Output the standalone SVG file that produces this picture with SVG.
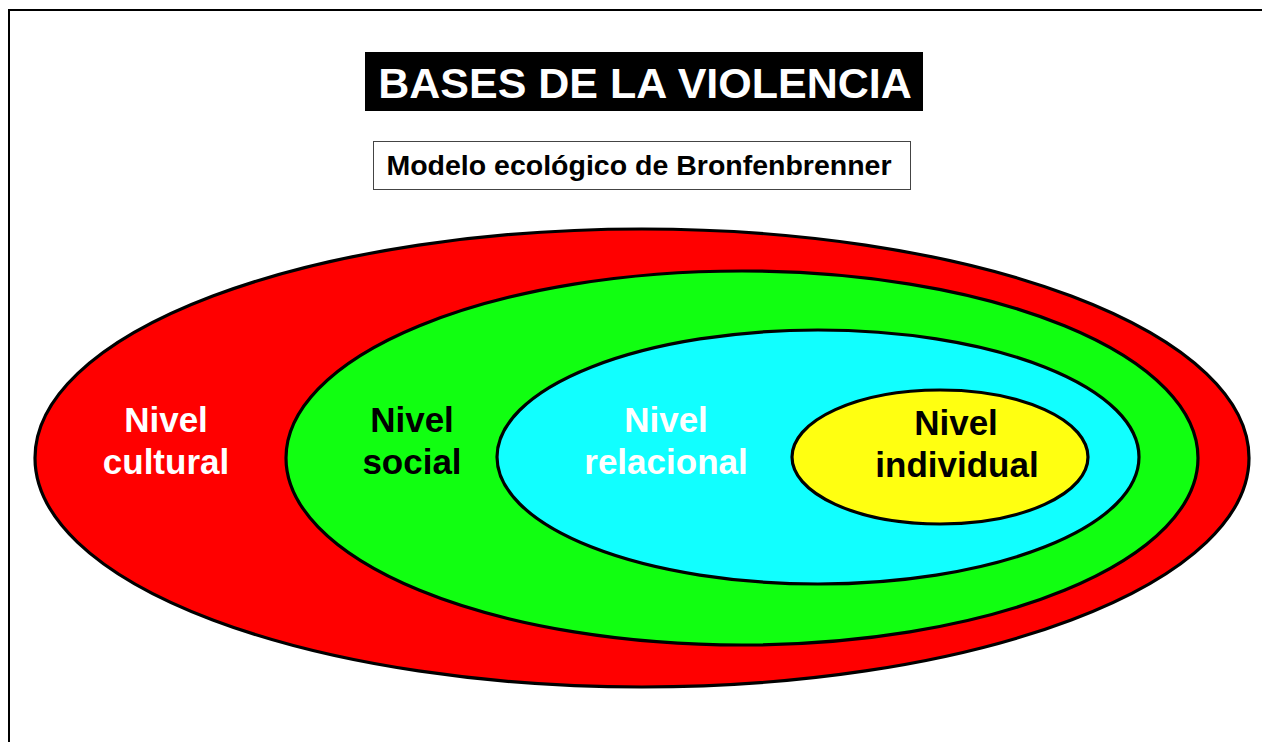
<svg xmlns="http://www.w3.org/2000/svg" width="1262" height="742" viewBox="0 0 1262 742">
<style>
.lvl{stroke:#000;stroke-width:3.2}
.t{font-family:"Liberation Sans",Arial,sans-serif;font-weight:bold;text-anchor:middle}
.n{font-size:35px}
</style>
<rect width="1262" height="742" fill="#fff"/>
<rect x="9" y="10" width="1270" height="750" fill="none" stroke="#000" stroke-width="2"/>
<g id="title">
<rect x="365" y="52" width="558" height="59" fill="#000"/>
<text class="t" x="645" y="98" font-size="43" fill="#fff">BASES DE LA VIOLENCIA</text>
</g>
<g id="subtitle">
<rect x="373.5" y="141.5" width="537" height="48" fill="#fff" stroke="#444" stroke-width="1"/>
<text class="t" x="639" y="175" font-size="28.5" fill="#000">Modelo ecológico de Bronfenbrenner</text>
</g>
<g id="cultural">
<ellipse class="lvl" cx="642" cy="458" rx="607" ry="229" fill="#ff0000"/>
<text class="t n" x="166" y="432" fill="#fff">Nivel</text>
<text class="t n" x="166" y="474" fill="#fff">cultural</text>
</g>
<g id="social">
<ellipse class="lvl" cx="742" cy="458" rx="456" ry="187" fill="#11ff11"/>
<text class="t n" x="412" y="432" fill="#000">Nivel</text>
<text class="t n" x="412" y="474" fill="#000">social</text>
</g>
<g id="relacional">
<ellipse class="lvl" cx="818" cy="457" rx="321" ry="127" fill="#11ffff"/>
<text class="t n" x="666" y="432" fill="#fff">Nivel</text>
<text class="t n" x="666" y="474" fill="#fff">relacional</text>
</g>
<g id="individual">
<ellipse class="lvl" cx="940" cy="457" rx="148" ry="67" fill="#ffff11"/>
<text class="t n" x="956" y="435" fill="#000">Nivel</text>
<text class="t n" x="957" y="477" fill="#000">individual</text>
</g>
<g id="connectors"/>
</svg>
